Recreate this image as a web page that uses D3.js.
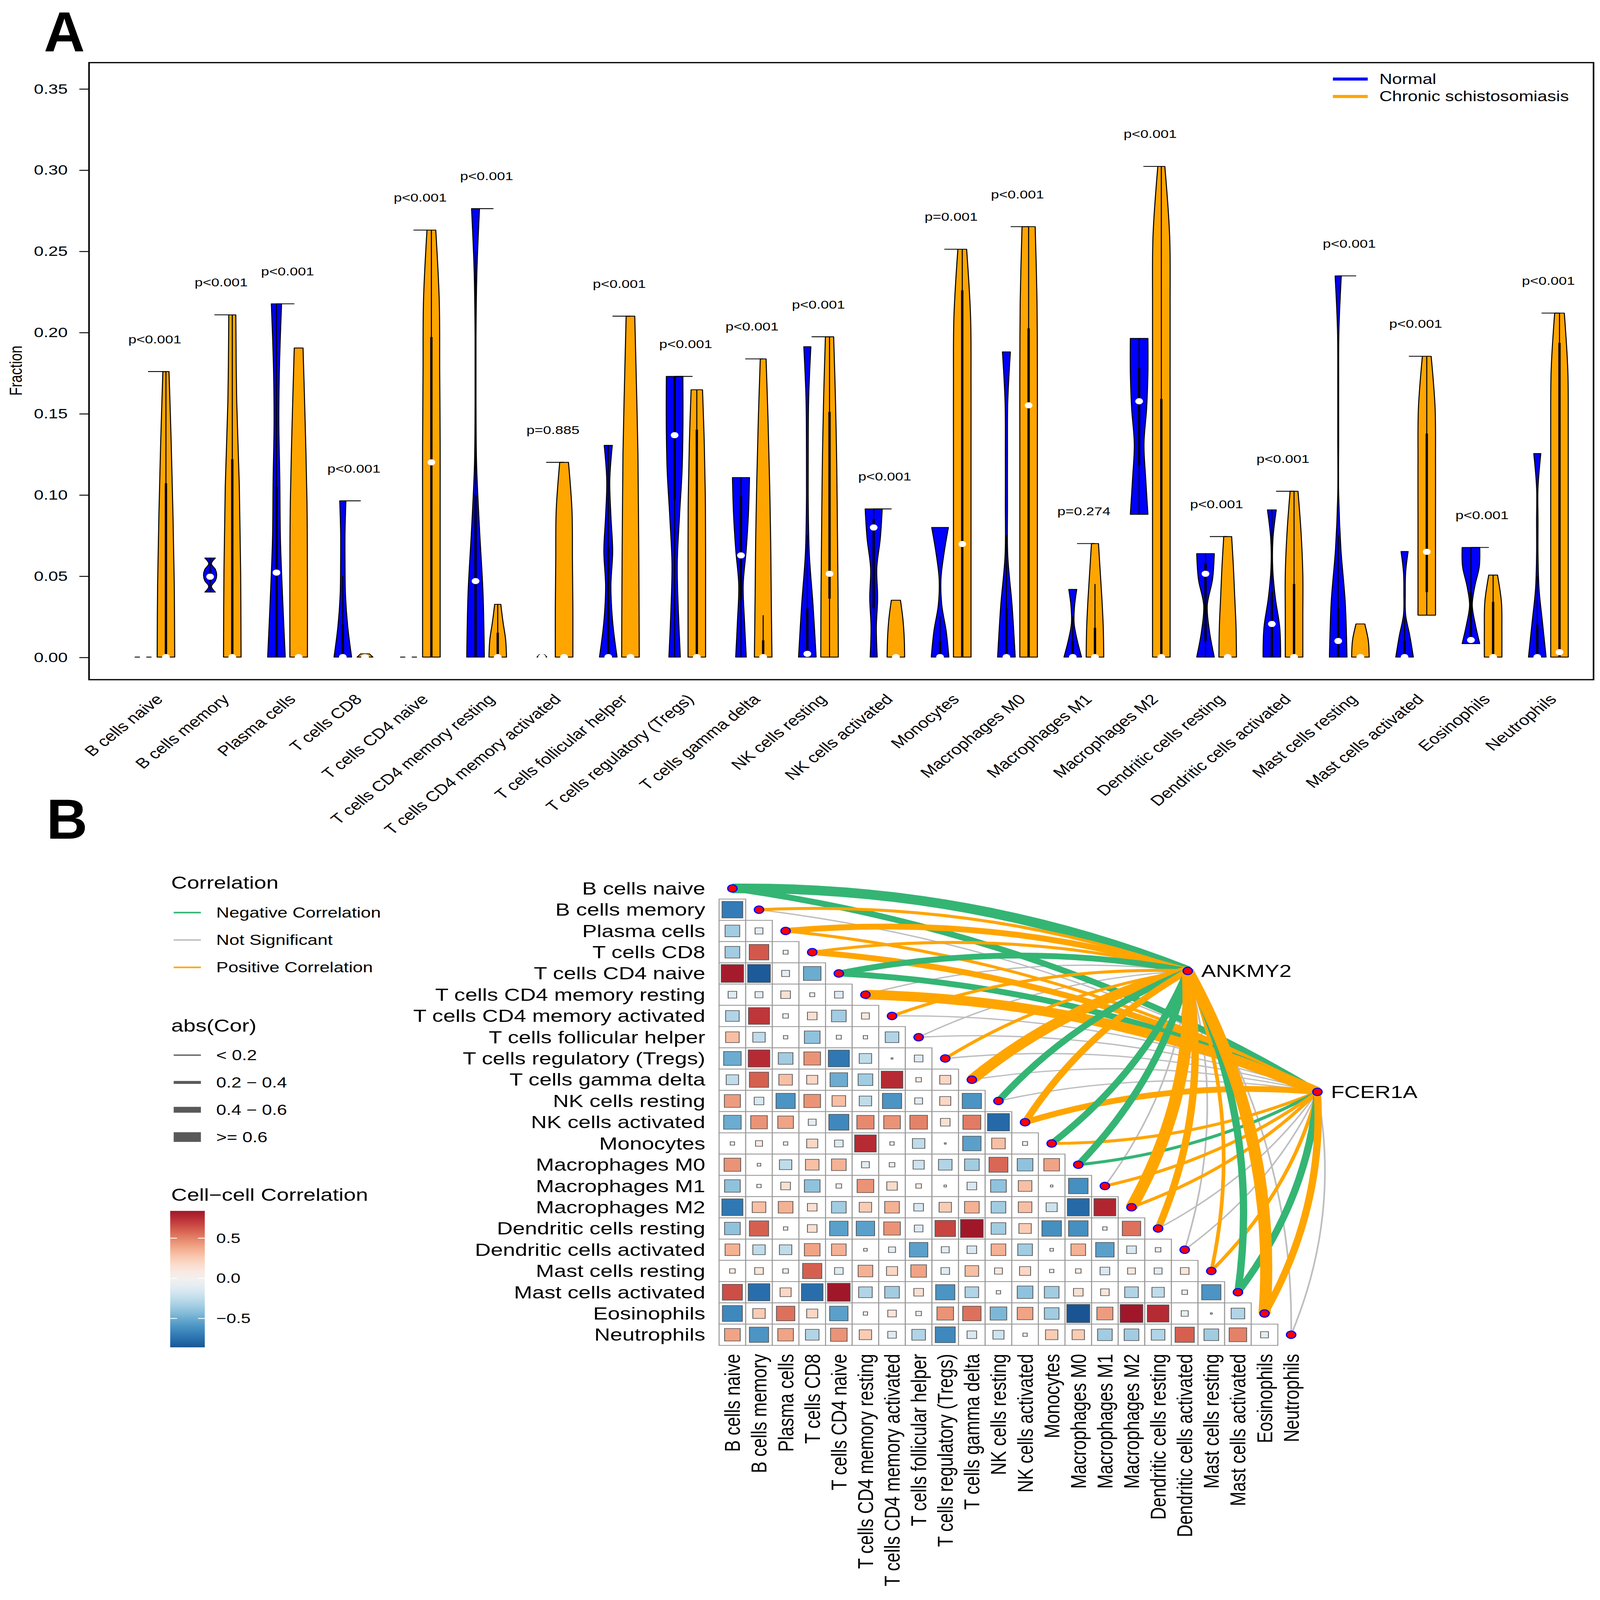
<!DOCTYPE html>
<html>
<head>
<meta charset="utf-8">
<script src="https://cdn.jsdelivr.net/npm/d3@7"></script>
<style>
  html, body { margin: 0; padding: 0; width: 100%; height: 100%; overflow: hidden; background: #fff; }
  svg { display: block; width: 100vw; height: 100vh; }
  text { font-family: "Liberation Sans", Arial, Helvetica, sans-serif; fill: #000; }
</style>
</head>
<body>
<svg id="fig"></svg>
<script>
// ---------- data ----------
const cellTypes = ["B cells naive", "B cells memory", "Plasma cells", "T cells CD8", "T cells CD4 naive",
  "T cells CD4 memory resting", "T cells CD4 memory activated", "T cells follicular helper",
  "T cells regulatory (Tregs)", "T cells gamma delta", "NK cells resting", "NK cells activated",
  "Monocytes", "Macrophages M0", "Macrophages M1", "Macrophages M2", "Dendritic cells resting",
  "Dendritic cells activated", "Mast cells resting", "Mast cells activated", "Eosinophils", "Neutrophils"];

const groups = ["Normal", "Chronic schistosomiasis"];

const pLabels = ["p<0.001", "p<0.001", "p<0.001", "p<0.001", "p<0.001", "p<0.001", "p=0.885", "p<0.001",
  "p<0.001", "p<0.001", "p<0.001", "p<0.001", "p=0.001", "p<0.001", "p=0.274", "p<0.001", "p<0.001",
  "p<0.001", "p<0.001", "p<0.001", "p<0.001", "p<0.001"];

const yTicks = [0, 0.05, 0.10, 0.15, 0.20, 0.25, 0.30, 0.35];

// Normal group: range, quartiles, median, and density outline (relative half width, bottom -> top)
const normMin = [0, 0.040, 0, 0, 0, 0, 0, 0, 0, 0, 0, 0, 0, 0, 0, 0.0879, 0, 0, 0, 0, 0.0083, 0];
const normMax = [0, 0.061, 0.2175, 0.0962, 0, 0.2761, 0.0015, 0.1304, 0.1728, 0.1105, 0.1911, 0.0912,
  0.0798, 0.1879, 0.0417, 0.1962, 0.0637, 0.0906, 0.2347, 0.065, 0.0675, 0.1253];
const normMed = [0, 0.0495, 0.052, 0, 0, 0.0468, 0, 0, 0.1366, 0.0626, 0.002, 0.0798,
  0, 0, 0, 0.1575, 0.0513, 0.0204, 0.0099, 0, 0.0105, 0];
const normQ1 = [0, 0.046, 0, 0, 0, 0, 0, 0, 0.097, 0.035, 0, 0.03, 0, 0, 0, 0.118, 0.01, 0, 0, 0, 0.009, 0];
const normQ3 = [0, 0.054, 0.105, 0.02, 0, 0.10, 0, 0.068, 0.1726, 0.099, 0.03, 0.085,
  0.01, 0.03, 0.01, 0.178, 0.058, 0.04, 0.03, 0.01, 0.04, 0.02];
const normShape = [
  [], [0.6, 0.15, 0.6, 0.75, 0.6, 0.15, 0.6], [1.0, 0.7, 0.45, 0.38, 0.27, 0.35, 0.58],
  [1.0, 0.55, 0.3, 0.25, 0.25, 0.35], [], [1.0, 0.85, 0.45, 0.12, 0.05, 0.05, 0.15, 0.45],
  [0.55, 0.3], [1.0, 0.5, 0.3, 0.5, 0.3, 0.17, 0.46], [0.65, 0.42, 0.3, 0.55, 0.85, 0.95, 0.94],
  [0.6, 0.4, 0.25, 0.6, 0.85, 0.97], [1.0, 0.65, 0.22, 0.1, 0.1, 0.15, 0.4],
  [0.4, 0.3, 0.45, 0.35, 0.75, 0.97], [1.0, 0.7, 0.2, 0.1, 0.45, 0.95],
  [1.0, 0.65, 0.15, 0.12, 0.12, 0.15, 0.45], [1.0, 0.5, 0.15, 0.2, 0.45],
  [1.0, 0.75, 0.55, 0.85, 1.0, 1.0], [1.0, 0.45, 0.2, 0.8, 1.0], [1.0, 0.9, 0.4, 0.1, 0.12, 0.5],
  [1.0, 0.8, 0.3, 0.05, 0.05, 0.05, 0.08, 0.35], [1.0, 0.6, 0.12, 0.08, 0.12, 0.4],
  [1.0, 0.5, 0.15, 0.45, 0.95, 1.0], [1.0, 0.6, 0.2, 0.08, 0.08, 0.08, 0.4]];

// Chronic schistosomiasis group
const chronMin = [0, 0, 0, 0, 0, 0, 0, 0, 0, 0, 0, 0, 0, 0, 0, 0, 0, 0, 0, 0.0258, 0, 0];
const chronMax = [0.1758, 0.2107, 0.1903, 0.002, 0.2629, 0.0325, 0.1199, 0.2099, 0.1646, 0.1836, 0.1972,
  0.035, 0.2511, 0.265, 0.0699, 0.3021, 0.0742, 0.1021, 0.0204, 0.1852, 0.0505, 0.2118];
const chronMed = [0, 0, 0, 0, 0.1199, 0, 0, 0, 0, 0, 0.0513, 0, 0.0696, 0.155, 0, 0, 0, 0, 0, 0.0648, 0, 0.003];
const chronQ1 = [0, 0, 0, 0, 0, 0, 0, 0, 0, 0, 0.036, 0, 0, 0, 0, 0, 0, 0, 0, 0.04, 0, 0];
const chronQ3 = [0.107, 0.1218, 0, 0, 0.197, 0.015, 0, 0, 0.14, 0.0103, 0.151, 0, 0.2258, 0.2024,
  0.018, 0.159, 0, 0.045, 0, 0.1376, 0.034, 0.1935];
const chronShape = [
  [1.0, 0.95, 0.8, 0.6, 0.35], [1.0, 0.95, 0.8, 0.5, 0.4], [1.0, 1.0, 0.95, 0.75, 0.5], [0.9, 0.5],
  [1, 1, 1, 1, 0.95, 0.9, 0.5], [1.0, 0.9, 0.6, 0.35], [1, 1, 0.95, 0.9, 0.5],
  [1, 0.97, 0.92, 0.85, 0.68, 0.49], [1, 1, 1, 0.97, 0.85, 0.65], [1, 0.92, 0.85, 0.72, 0.55, 0.33],
  [1, 0.97, 0.9, 0.82, 0.68, 0.47], [1, 0.95, 0.8, 0.52], [1, 1, 1, 1, 1, 0.95, 0.5],
  [1, 1, 1, 1, 1, 0.95, 0.75], [1, 0.95, 0.8, 0.6, 0.4], [1, 1, 1, 1, 1, 1, 0.95, 0.4],
  [1, 0.95, 0.8, 0.65, 0.45], [1, 1, 1, 0.8, 0.45], [1, 0.9, 0.5], [1, 1, 1, 1, 0.95, 0.5],
  [1, 1, 0.95, 0.5], [1, 1, 1, 1, 1, 0.95, 0.55]];

// Panel B: lower triangle of the cell-cell correlation matrix (row i holds columns 0..i-1)
const corrRows = [
  [],
  [-0.7],
  [-0.35, -0.1],
  [-0.35, 0.62, -0.04],
  [0.82, -0.84, -0.1, -0.5],
  [-0.12, -0.1, 0.15, 0.04, -0.12],
  [-0.3, 0.72, 0.05, 0.15, -0.35, 0.1],
  [0.3, -0.25, -0.03, -0.4, 0.04, 0.03, -0.3],
  [-0.5, 0.76, -0.35, 0.45, -0.72, -0.25, 0.005, -0.12],
  [-0.25, 0.6, 0.3, 0.2, -0.5, -0.35, 0.76, 0.05, 0.2],
  [0.42, -0.15, -0.6, 0.45, 0.3, -0.25, -0.6, -0.1, 0.2, -0.6],
  [-0.5, 0.45, 0.4, -0.1, -0.65, 0.48, 0.45, 0.5, 0.15, 0.52, -0.78],
  [0.03, 0.08, 0.03, 0.2, -0.12, 0.76, 0.03, -0.25, 0.005, -0.55, 0.3, 0.04],
  [0.45, 0.02, -0.25, 0.3, 0.35, -0.1, -0.05, -0.2, -0.3, -0.35, 0.58, -0.4, 0.4],
  [-0.4, 0.03, 0.15, -0.4, -0.05, 0.45, 0.18, 0.05, 0.01, -0.15, -0.4, 0.3, 0.01, -0.62],
  [-0.72, 0.3, 0.35, 0.15, -0.35, 0.25, 0.35, -0.15, 0.25, 0.35, -0.35, 0.3, -0.2, -0.78, 0.78],
  [-0.4, 0.6, 0.03, 0.15, -0.55, -0.55, 0.45, -0.12, 0.68, 0.84, -0.35, 0.25, -0.62, -0.62, 0.03, 0.55],
  [0.35, -0.25, -0.25, 0.4, 0.35, 0.02, -0.08, -0.55, -0.1, -0.15, 0.35, -0.35, 0.02, 0.35, -0.55, -0.15, -0.05],
  [0.05, 0.12, -0.05, 0.6, -0.12, 0.35, 0.2, 0.4, -0.12, 0.3, 0.1, 0.2, 0.03, 0.05, -0.15, 0.1, -0.1, 0.12],
  [0.65, -0.76, 0.2, -0.76, 0.84, -0.3, -0.35, 0.15, -0.6, -0.3, 0.03, -0.4, -0.35, 0.15, 0.12, -0.3, -0.25, -0.05, -0.6],
  [-0.65, 0.25, 0.55, 0.2, -0.55, 0.03, 0.12, -0.05, 0.45, 0.55, -0.45, 0.4, -0.35, -0.86, 0.42, 0.84, 0.76, -0.08, 0.005, -0.3],
  [0.4, -0.6, 0.4, -0.3, 0.45, 0.25, -0.12, -0.3, -0.65, -0.15, -0.2, 0.03, 0.25, 0.25, -0.35, -0.35, -0.3, 0.6, -0.35, 0.5, -0.1]];
const corrBarRange = [-0.86, 0.84];
const corrBarTicks = [0.5, 0.0, -0.5];

// gene -> cell links: sign category and abs(Cor) bin (1: <0.2 ... 4: >=0.6)
const genes = ["ANKMY2", "FCER1A"];
const ankmy2Type = ["neg", "pos", "pos", "pos", "neg", "ns", "pos", "ns", "pos", "pos", "neg",
  "pos", "neg", "neg", "ns", "pos", "pos", "ns", "pos", "neg", "pos", "ns"];
const ankmy2Bin = [4, 2, 3, 2, 3, 1, 2, 1, 2, 4, 3, 3, 3, 3, 1, 4, 3, 1, 2, 3, 4, 1];
const fcer1aType = ["neg", "ns", "pos", "pos", "neg", "pos", "ns", "ns", "ns", "ns", "ns",
  "pos", "pos", "neg", "pos", "pos", "ns", "ns", "pos", "neg", "pos", "ns"];
const fcer1aBin = [3, 1, 2, 3, 3, 4, 1, 1, 1, 1, 1, 3, 2, 2, 2, 2, 1, 1, 2, 3, 3, 1];

const linkTypes = ["neg", "ns", "pos"];
const linkTypeLabels = ["Negative Correlation", "Not Significant", "Positive Correlation"];
const binLabels = ["< 0.2", "0.2 \u2212 0.4", "0.4 \u2212 0.6", ">= 0.6"];

// ---------- canvas ----------
// the figure is laid out in a 1240 x 1558.4 frame and stretched onto the whole window
const W = 1240, H = 1558.4;
const svg = d3.select("#fig")
  .attr("viewBox", `0 0 ${W} ${H}`)
  .attr("preserveAspectRatio", "none");
svg.append("rect").attr("width", W).attr("height", H).attr("fill", "#fff");

const panelLabel = (txt, x, y) => svg.append("text")
  .attr("transform", `translate(${x},${y}) scale(0.8,1)`)
  .attr("font-size", 55).attr("font-weight", "bold").text(txt);
panelLabel("A", 34, 50);
panelLabel("B", 36, 817);

// ---------- panel A: violins ----------
const groupColor = d3.scaleOrdinal().domain(groups).range(["#0000FF", "#FFA500"]);
const x = d3.scalePoint().domain(cellTypes).range([120, 1200]);
const y = d3.scaleLinear().domain([0, 0.35]).range([640, 86.3]);
const halfW = 6.8, off = 8.6;

const plotA = svg.append("g");
plotA.append("rect").attr("x", 69).attr("y", 61).attr("width", 1235 - 69).attr("height", 662 - 61)
  .attr("fill", "none").attr("stroke", "#000").attr("stroke-width", 1.2);

const yAxis = plotA.append("g").attr("transform", "translate(69,0)")
  .call(d3.axisLeft(y).tickValues(yTicks).tickFormat(d3.format(".2f")).tickSize(7.5).tickPadding(9).tickSizeOuter(0));
yAxis.select(".domain").remove();
yAxis.selectAll("line").attr("stroke", "#000").attr("stroke-width", 0.9);
yAxis.selectAll("text").attr("font-size", 13.5).attr("font-family", '"Liberation Sans", Arial, sans-serif').attr("fill", "#000");

plotA.append("text").attr("transform", "translate(17,361) rotate(-90)")
  .attr("text-anchor", "middle").attr("font-size", 13.5).text("Fraction");

function violin(cx, mn, mx, q1, q3, med, prof, col) {
  const g = plotA.append("g");
  if (mx <= 0 || prof.length === 0) {
    g.append("line").attr("x1", cx - 7).attr("x2", cx + 7).attr("y1", y(0)).attr("y2", y(0))
      .attr("stroke", "#000").attr("stroke-width", 0.8).attr("stroke-dasharray", "4,5");
    return;
  }
  const pts = prof.map((w, k) => ({ v: mn + (mx - mn) * k / (prof.length - 1), w: w * halfW }));
  const area = d3.area().curve(d3.curveCatmullRom.alpha(0.5))
    .y(d => y(d.v)).x0(d => cx - d.w).x1(d => cx + d.w);
  g.append("path").attr("d", area(pts)).attr("fill", col)
    .attr("stroke", "#000").attr("stroke-width", 0.8).attr("stroke-linejoin", "round");
  const iqr = q3 - q1;
  const hi = Math.min(mx, q3 + 1.5 * iqr), lo = Math.max(mn, q1 - 1.5 * iqr);
  if (hi > lo) {
    g.append("line").attr("x1", cx).attr("x2", cx).attr("y1", y(lo)).attr("y2", y(hi))
      .attr("stroke", "#000").attr("stroke-width", 0.8);
  }
  if (q3 > q1) {
    g.append("rect").attr("x", cx - 0.9).attr("width", 1.8).attr("y", y(q3)).attr("height", y(q1) - y(q3))
      .attr("fill", "#000");
  }
  g.append("circle").attr("cx", cx).attr("cy", y(med)).attr("r", 3).attr("fill", "#fff");
}

cellTypes.forEach((c, i) => {
  const xb = x(c) - off, xo = x(c) + off;
  violin(xb, normMin[i], normMax[i], normQ1[i], normQ3[i], normMed[i], normShape[i], groupColor(groups[0]));
  violin(xo, chronMin[i], chronMax[i], chronQ1[i], chronQ3[i], chronMed[i], chronShape[i], groupColor(groups[1]));
  const top = Math.max(normMax[i], chronMax[i]);
  const fromX = normMax[i] >= chronMax[i] ? xb : xb + 3.3;
  const toX = normMax[i] >= chronMax[i] ? xo - 3.3 : xo;
  plotA.append("line").attr("x1", fromX).attr("x2", toX).attr("y1", y(top)).attr("y2", y(top))
    .attr("stroke", "#000").attr("stroke-width", 0.8);
  plotA.append("text").attr("x", x(c)).attr("y", y(top + 0.02)).attr("text-anchor", "middle")
    .attr("dominant-baseline", "central").attr("font-size", 11.3).text(pLabels[i]);
  plotA.append("text").attr("transform", `translate(${x(c) + 7},${682}) rotate(-45)`)
    .attr("text-anchor", "end").attr("font-size", 14).text(c);
});

// legend A
groups.forEach((gname, k) => {
  const ly = 77 + k * 17;
  plotA.append("line").attr("x1", 1033).attr("x2", 1060).attr("y1", ly).attr("y2", ly)
    .attr("stroke", groupColor(gname)).attr("stroke-width", 3);
  plotA.append("text").attr("x", 1069).attr("y", ly).attr("dominant-baseline", "central")
    .attr("font-size", 13.7).text(gname);
});

// ---------- panel B: correlation matrix with links ----------
const plotB = svg.append("g");
const bx = d3.scaleBand().domain(cellTypes).range([557.3, 557.3 + 22 * 20.62]);
const by = d3.scaleBand().domain(cellTypes).range([855, 855 + 22 * 20.7]);
const bw = bx.bandwidth(), bh = by.bandwidth();
const corrColor = d3.scaleSequential(d3.interpolateRdBu).domain([1, -1]);
const linkColor = d3.scaleOrdinal().domain(linkTypes).range(["#34B574", "#BEBEBE", "#FFA500"]);
const linkWidth = d3.scaleOrdinal().domain([1, 2, 3, 4]).range([1.3, 2.9, 5.7, 9.4]);

// cells
corrRows.forEach((row, i) => {
  row.forEach((r, j) => {
    const cx = bx(cellTypes[j]), cy = by(cellTypes[i]);
    plotB.append("rect").attr("x", cx).attr("y", cy).attr("width", bw).attr("height", bh)
      .attr("fill", "#fff").attr("stroke", "#9a9a9a").attr("stroke-width", 0.8);
    const s = bw * 0.93 * Math.sqrt(Math.abs(r));
    plotB.append("rect").attr("x", cx + (bw - s) / 2).attr("y", cy + (bh - s) / 2)
      .attr("width", s).attr("height", s).attr("fill", corrColor(r))
      .attr("stroke", "#555").attr("stroke-width", 0.6);
  });
});

// row / column labels
cellTypes.forEach(c => {
  plotB.append("text").attr("x", 546.6).attr("y", by(c) + bh / 2).attr("text-anchor", "end")
    .attr("dominant-baseline", "central").attr("font-size", 17).text(c);
  plotB.append("text").attr("transform", `translate(${bx(c) + bw / 2},${1318.7}) rotate(-90)`)
    .attr("text-anchor", "end").attr("dominant-baseline", "central").attr("font-size", 17).text(c);
});

// links
const geneNode = { ANKMY2: [920.5, 945.7], FCER1A: [1021, 1063.5] };
const links = [];
cellTypes.forEach((c, i) => {
  links.push({ gene: "ANKMY2", i, type: ankmy2Type[i], bin: ankmy2Bin[i] });
  links.push({ gene: "FCER1A", i, type: fcer1aType[i], bin: fcer1aBin[i] });
});
function linkPath(d) {
  const x0 = bx(cellTypes[d.i]) + bw / 2, y0 = by(cellTypes[d.i]) + bh / 2;
  const [x1, y1] = geneNode[d.gene];
  const dx = x1 - x0, dy = y1 - y0, len = Math.hypot(dx, dy);
  let nx = dy / len, ny = -dx / len;
  if (d.i >= 12) { nx = -nx; ny = -ny; }
  const k = 0.12 * len;
  const p = d3.path();
  p.moveTo(x0, y0);
  p.quadraticCurveTo((x0 + x1) / 2 + nx * k, (y0 + y1) / 2 + ny * k, x1, y1);
  return p.toString();
}
const ordered = links.filter(d => d.type === "ns").concat(links.filter(d => d.type !== "ns"));
plotB.selectAll("path.link").data(ordered).enter().append("path")
  .attr("class", "link").attr("d", linkPath).attr("fill", "none")
  .attr("stroke", d => linkColor(d.type)).attr("stroke-width", d => linkWidth(d.bin));

// nodes
cellTypes.forEach(c => {
  plotB.append("circle").attr("cx", bx(c) + bw / 2).attr("cy", by(c) + bh / 2).attr("r", 3.6)
    .attr("fill", "#FF0000").attr("stroke", "#0000FF").attr("stroke-width", 1);
});
genes.forEach(gname => {
  const [gx, gy] = geneNode[gname];
  plotB.append("circle").attr("cx", gx).attr("cy", gy).attr("r", 3.6)
    .attr("fill", "#FF0000").attr("stroke", "#0000FF").attr("stroke-width", 1);
  plotB.append("text").attr("x", gx + 10.5).attr("y", gy).attr("dominant-baseline", "central")
    .attr("font-size", 17).text(gname);
});

// legends B
const leg = svg.append("g");
leg.append("text").attr("x", 132.7).attr("y", 859.6).attr("dominant-baseline", "central")
  .attr("font-size", 17).text("Correlation");
linkTypes.forEach((t, k) => {
  const ly = 888.9 + k * 26.65;
  leg.append("line").attr("x1", 134.6).attr("x2", 155.7).attr("y1", ly).attr("y2", ly)
    .attr("stroke", linkColor(t)).attr("stroke-width", 1.5);
  leg.append("text").attr("x", 167.6).attr("y", ly).attr("dominant-baseline", "central")
    .attr("font-size", 14).text(linkTypeLabels[k]);
});

leg.append("text").attr("x", 132.7).attr("y", 998.8).attr("dominant-baseline", "central")
  .attr("font-size", 17).text("abs(Cor)");
binLabels.forEach((lab, k) => {
  const ly = 1027.7 + k * 26.6;
  leg.append("line").attr("x1", 134.6).attr("x2", 155.7).attr("y1", ly).attr("y2", ly)
    .attr("stroke", "#595959").attr("stroke-width", linkWidth(k + 1));
  leg.append("text").attr("x", 167.6).attr("y", ly).attr("dominant-baseline", "central")
    .attr("font-size", 14).text(lab);
});

leg.append("text").attr("x", 132.7).attr("y", 1163.7).attr("dominant-baseline", "central")
  .attr("font-size", 17).text("Cell\u2212cell Correlation");
const barY = d3.scaleLinear().domain([corrBarRange[1], corrBarRange[0]]).range([1179.4, 1312.3]);
const grad = svg.append("defs").append("linearGradient").attr("id", "corrGrad")
  .attr("x1", 0).attr("y1", 0).attr("x2", 0).attr("y2", 1);
d3.range(0, 1.0001, 0.05).forEach(t => {
  grad.append("stop").attr("offset", t)
    .attr("stop-color", corrColor(corrBarRange[1] - t * (corrBarRange[1] - corrBarRange[0])));
});
leg.append("rect").attr("x", 131.9).attr("y", 1179.4).attr("width", 158.7 - 131.9).attr("height", 1312.3 - 1179.4)
  .attr("fill", "url(#corrGrad)");
corrBarTicks.forEach(v => {
  const ty = barY(v);
  leg.append("line").attr("x1", 131.9).attr("x2", 137.2).attr("y1", ty).attr("y2", ty).attr("stroke", "#fff").attr("stroke-width", 0.8);
  leg.append("line").attr("x1", 153.4).attr("x2", 158.7).attr("y1", ty).attr("y2", ty).attr("stroke", "#fff").attr("stroke-width", 0.8);
  leg.append("text").attr("x", 167.6).attr("y", ty).attr("dominant-baseline", "central")
    .attr("font-size", 13.5).text(d3.format(".1f")(v).replace("-", "\u2212"));
});
</script>
</body>
</html>
